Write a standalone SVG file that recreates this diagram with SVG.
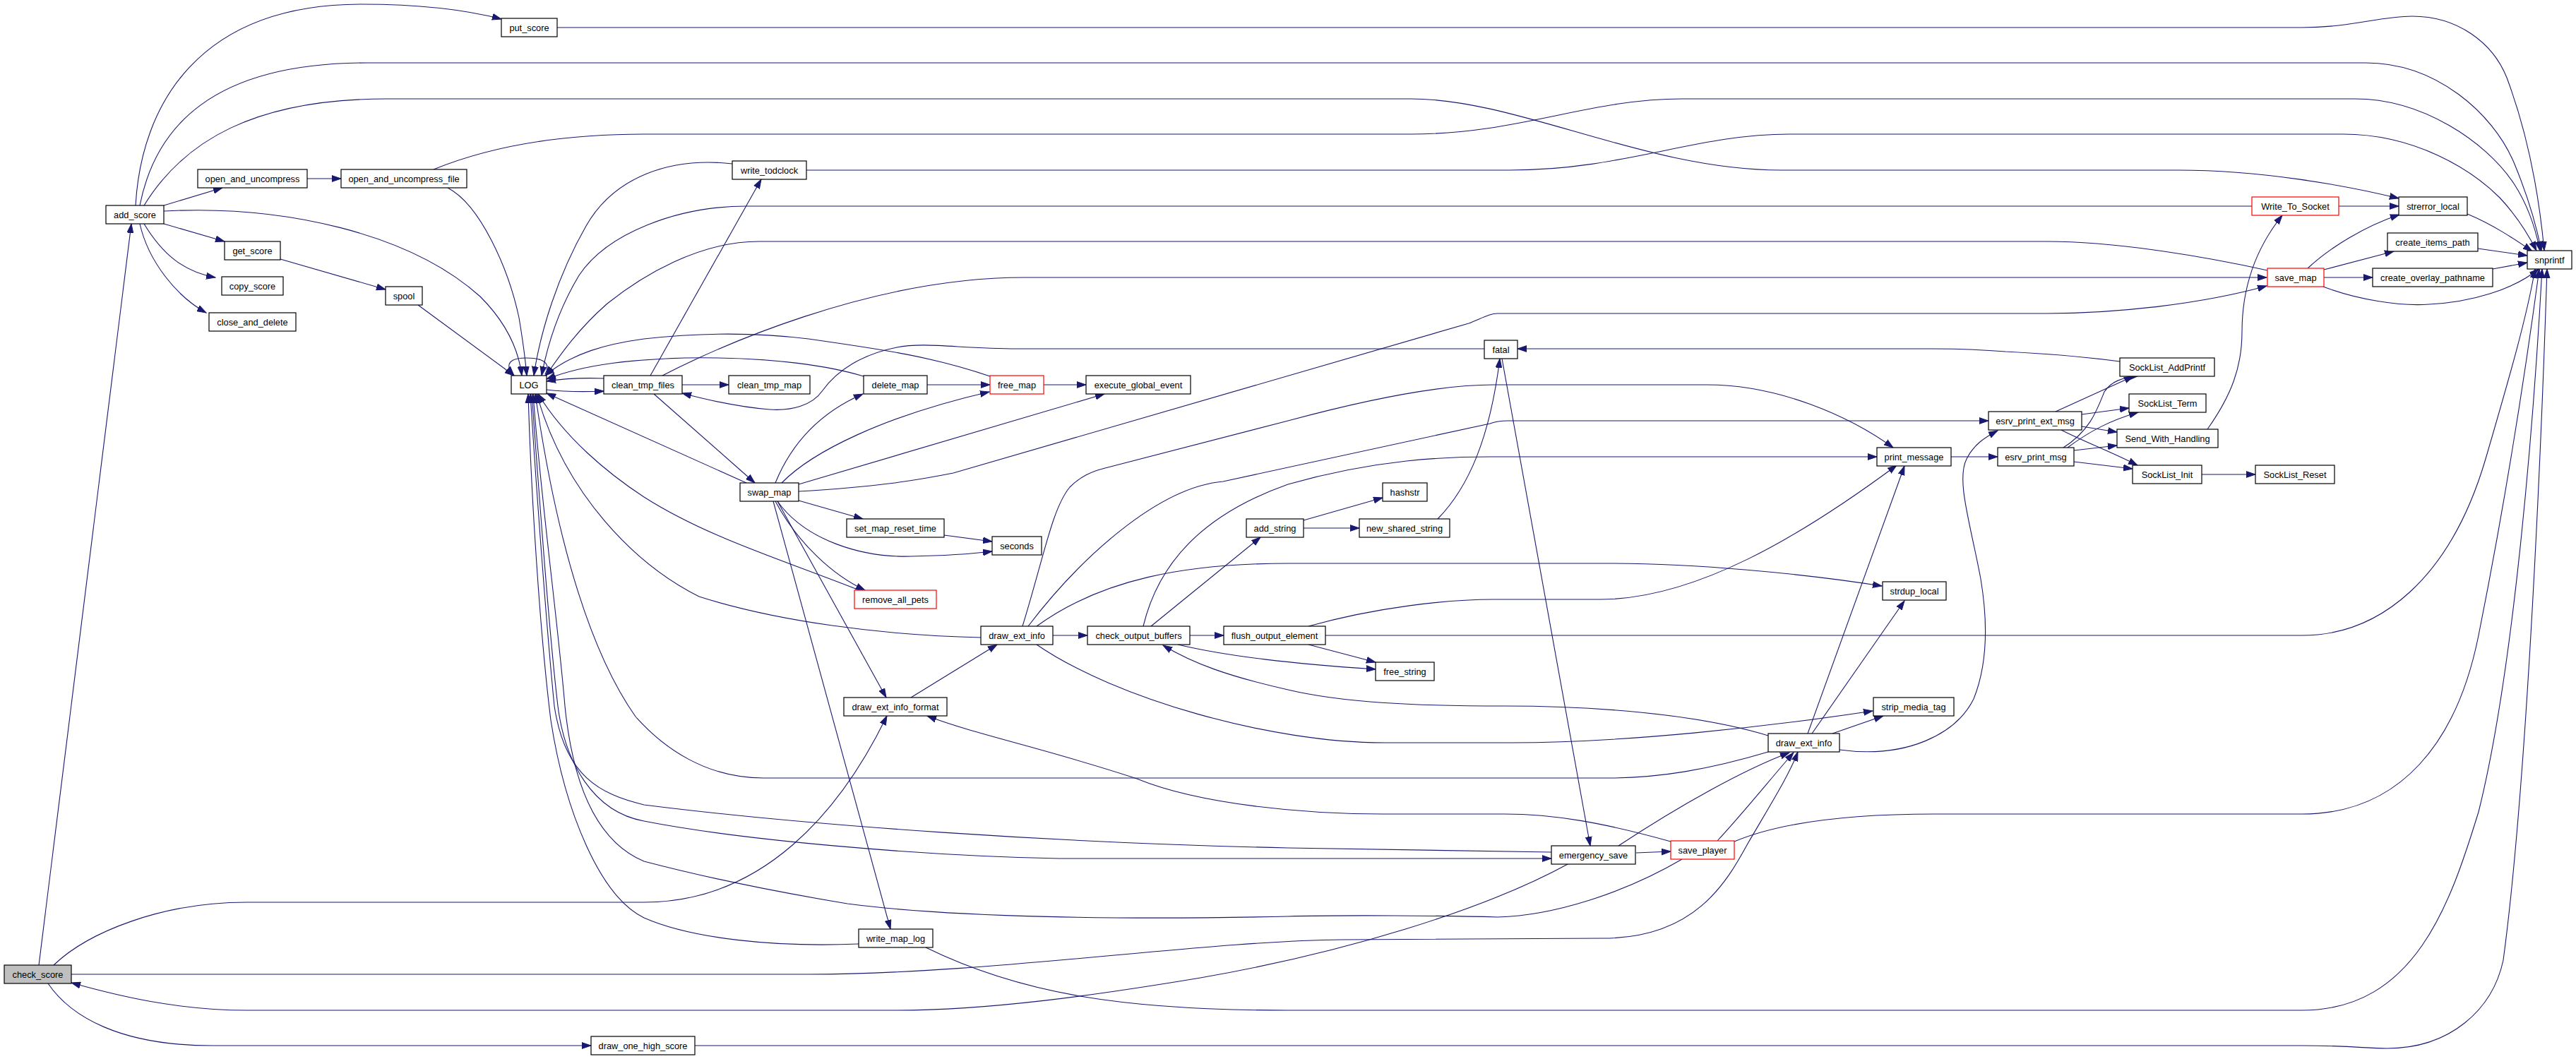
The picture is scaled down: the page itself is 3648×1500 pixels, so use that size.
<svg xmlns="http://www.w3.org/2000/svg" width="3648" height="1500" viewBox="0 0 3648 1500">
<defs>
<style>
.n rect{fill:#fff;stroke:#000;stroke-width:1.2}
.n.r rect{stroke:#ff0000}
.n.g rect{fill:#bfbfbf}
.n text{font-family:"Liberation Sans",Arial,Helvetica,sans-serif;font-size:12.8px;text-anchor:middle;fill:#000}
#edges path{fill:none;stroke:#191970;stroke-width:1.1;marker-end:url(#a)}
</style>
<marker id="a" markerWidth="14" markerHeight="10" refX="13" refY="5" orient="auto" markerUnits="userSpaceOnUse"><path d="M0,0.6 L13,5 L0,9.4 z" fill="#191970" stroke="#191970" stroke-width="1"/></marker>
</defs>
<rect width="3648" height="1500" fill="#fff"/>
<g id="edges">
<path d="M55,1367 L186,317"/>
<path d="M76,1367 C125,1320 230,1278 349,1278 L912,1278 C1080,1278 1190,1150 1256,1014"/>
<path d="M101,1380 L1145,1380 C1400,1380 1700,1333 1900,1331 L2270,1329 C2400,1329 2445,1250 2475,1195 C2510,1135 2535,1095 2546,1065"/>
<path d="M68,1393 C100,1440 170,1481 300,1481 L837,1481"/>
<path d="M984,1481 L3260,1481 C3330,1481 3350,1485 3380,1485 C3470,1485 3530,1430 3545,1360 C3580,1100 3600,600 3607,381"/>
<path d="M2222,1223 C2100,1290 1900,1350 1700,1385 C1550,1410 1400,1431 1270,1431 L350,1431 C250,1431 165,1410 101,1392"/>
<path d="M1311,1342 C1450,1410 1600,1431 1824,1431 L3260,1431 C3420,1431 3470,1280 3510,1150 C3560,950 3588,600 3600,381"/>
<path d="M2456,1192 C2520,1165 2620,1153 2740,1153 L3260,1153 C3400,1153 3480,1050 3510,900 C3550,700 3580,500 3596,381"/>
<path d="M1877,900 L3260,900 C3370,900 3470,820 3520,650 C3555,530 3578,450 3590,381"/>
<path d="M789,39 L3260,39 C3330,39 3370,23 3416,23 C3480,23 3530,60 3550,110 C3580,190 3596,280 3603,355"/>
<path d="M198,291 C220,180 300,89 520,89 L3350,89 C3450,89 3530,160 3560,230 C3585,290 3594,330 3599,355"/>
<path d="M204,291 C260,200 360,140 547,140 L1998,140 C2150,140 2330,241 2522,241 L3085,241 C3200,241 3320,262 3397,281"/>
<path d="M614,240 C700,205 800,190 912,190 L1998,190 C2150,190 2250,140 2382,140 L3335,140 C3430,140 3520,200 3560,260 C3583,295 3592,330 3597,355"/>
<path d="M1142,241 L2138,241 C2300,241 2400,190 2534,190 L3318,190 C3420,190 3500,240 3540,280 C3568,310 3582,335 3592,355"/>
<path d="M3494,303 C3530,318 3560,338 3586,356"/>
<path d="M3509,352 L3579,362"/>
<path d="M3530,381 L3579,372"/>
<path d="M3290,406 C3340,425 3400,434 3440,431 C3500,428 3560,410 3595,381"/>
<path d="M3268,380 C3300,350 3350,320 3398,304"/>
<path d="M3291,382 L3390,356"/>
<path d="M3291,393 L3360,393"/>
<path d="M3312,292 L3397,292"/>
<path d="M3126,608 C3160,560 3175,520 3175,470 C3175,400 3200,345 3232,305"/>
<path d="M3189,292 L1057,292 C960,292 860,330 820,390 C790,440 775,490 767,532"/>
<path d="M3211,383 C3130,365 3000,342 2900,342 L1075,342 C990,342 910,390 860,430 C820,465 795,500 773,532"/>
<path d="M938,532 C1010,495 1230,393 1450,393 L3210,393"/>
<path d="M1131,696 C1240,690 1300,680 1350,670 L2080,458 C2100,450 2110,444 2121,444 L2899,444 C3000,444 3120,430 3210,405"/>
<path d="M921,532 L1078,254"/>
<path d="M966,545 L1032,545"/>
<path d="M1313,545 L1402,545"/>
<path d="M1478,545 L1538,545"/>
<path d="M926,558 L1069,684"/>
<path d="M1057,684 L774,557"/>
<path d="M1098,684 C1120,630 1160,585 1222,558"/>
<path d="M1107,684 C1150,640 1250,590 1401,555"/>
<path d="M1131,686 L1564,558"/>
<path d="M1131,709 L1222,735"/>
<path d="M1337,758 L1405,767"/>
<path d="M1101,710 C1140,765 1220,790 1290,788 C1340,787 1380,784 1405,781"/>
<path d="M1098,710 C1130,770 1180,815 1225,836"/>
<path d="M1217,836 C1100,790 1000,760 912,704 C860,670 800,620 762,558"/>
<path d="M1101,710 L1255,988"/>
<path d="M1095,710 L1261,1316"/>
<path d="M1290,988 L1412,913"/>
<path d="M1491,900 L1540,900"/>
<path d="M1685,900 L1733,900"/>
<path d="M1389,903 C1250,900 1100,880 990,845 C900,800 800,700 760,558"/>
<path d="M1448,887 C1478,790 1490,720 1515,690 C1530,675 1545,668 1565,663 L1824,596 C1950,562 2050,545 2115,545 L2417,545 C2520,545 2620,590 2681,634"/>
<path d="M1456,887 C1530,790 1640,690 1732,682 L2110,600 C2118,597 2124,596 2135,596 L2816,596"/>
<path d="M1468,887 C1560,820 1680,798 1824,798 L2278,798 C2400,798 2550,812 2665,830"/>
<path d="M1468,913 C1580,990 1800,1052 1960,1052 L2140,1052 C2300,1052 2500,1030 2652,1007"/>
<path d="M1619,887 C1640,800 1700,730 1824,686 C1950,650 2050,647 2110,647 L2658,647"/>
<path d="M1630,887 L1785,761"/>
<path d="M1668,913 C1740,930 1830,940 1948,948"/>
<path d="M1853,913 L1948,938"/>
<path d="M1853,887 C1950,860 2050,849 2115,849 L2266,849 C2400,849 2550,760 2686,659"/>
<path d="M1846,737 L1958,705"/>
<path d="M1846,748 L1925,748"/>
<path d="M2036,735 C2080,690 2110,620 2124,508"/>
<path d="M2127,508 L2252,1198"/>
<path d="M3002,512 C2950,505 2880,500 2840,498 C2790,494 2760,494 2736,494 L2149,494"/>
<path d="M2102,494 L1440,494 C1360,494 1310,484 1270,492 C1220,502 1185,525 1165,553 C1150,575 1120,582 1090,580 C1050,577 1000,566 966,557"/>
<path d="M1402,533 C1320,505 1250,495 1145,480 C1080,472 1000,470 912,480 C860,487 810,500 772,532"/>
<path d="M1223,533 C1180,520 1100,505 970,507 C900,509 830,515 774,537"/>
<path d="M772,530 C782,512 765,507 745,507 C725,507 712,514 728,532"/>
<path d="M774,552 C800,555 830,555 855,554"/>
<path d="M855,536 C830,535 800,536 774,540"/>
<path d="M592,432 L728,532"/>
<path d="M232,299 C400,290 580,330 680,420 C720,460 735,500 739,532"/>
<path d="M634,266 C680,290 720,380 735,450 C740,480 744,510 746,532"/>
<path d="M1037,232 C950,222 870,250 830,320 C790,390 765,470 756,532"/>
<path d="M2197,1207 L1824,1201 C1500,1194 1150,1170 912,1140 C850,1125 800,1100 785,1000 C775,900 760,700 751,558"/>
<path d="M753,558 C765,720 778,900 790,1000 C800,1080 840,1150 912,1163 C1050,1190 1300,1212 1500,1216 L2197,1216"/>
<path d="M2382,1217 C2300,1265 2200,1297 2121,1299 C2050,1297 1900,1296 1824,1298 C1600,1303 1350,1300 1200,1280 C1050,1255 950,1230 912,1220 C840,1190 810,1100 800,1000 C790,880 765,700 755,558"/>
<path d="M1216,1337 C1100,1342 980,1330 912,1300 C850,1270 800,1150 780,1020 C765,900 752,700 748,558"/>
<path d="M2504,1065 C2420,1090 2350,1102 2278,1102 L1081,1102 C1000,1102 940,1060 900,1015 C840,930 790,780 758,558"/>
<path d="M2504,1042 C2400,1010 2250,1000 2130,1000 C2000,1000 1900,995 1824,977 C1740,958 1690,940 1647,914"/>
<path d="M2560,1039 L2697,660"/>
<path d="M2566,1039 L2697,851"/>
<path d="M2595,1039 L2667,1014"/>
<path d="M2605,1062 C2700,1075 2770,1040 2795,990 C2815,940 2815,880 2805,820 C2790,740 2770,680 2785,650 C2795,630 2810,620 2829,610"/>
<path d="M2317,1208 L2366,1206"/>
<path d="M2292,1198 C2380,1140 2470,1090 2534,1066"/>
<path d="M2432,1191 C2470,1150 2510,1100 2540,1066"/>
<path d="M2366,1192 C2270,1165 2200,1153 2130,1153 L1958,1153 C1850,1153 1700,1140 1610,1103 C1480,1060 1380,1040 1313,1014"/>
<path d="M2763,647 L2829,647"/>
<path d="M2911,583 L3021,533"/>
<path d="M2948,587 L3015,578"/>
<path d="M2948,604 L2998,612"/>
<path d="M2919,609 C2950,625 2990,640 3027,659"/>
<path d="M2922,634 C2960,610 2970,580 2980,555 C2990,540 3005,535 3027,533"/>
<path d="M2928,634 C2960,610 2990,595 3028,584"/>
<path d="M2937,638 L2998,631"/>
<path d="M2937,654 L3020,664"/>
<path d="M3118,672 L3194,672"/>
<path d="M232,291 L315,266"/>
<path d="M435,253 L483,253"/>
<path d="M232,317 L318,342"/>
<path d="M397,367 L546,410"/>
<path d="M204,317 C230,360 260,385 305,393"/>
<path d="M198,317 C210,370 250,420 292,443"/>
<path d="M192,291 C200,150 280,6 512,6 C600,6 660,14 710,27"/>
</g>
<g id="n-check_score" class="n g"><rect x="6" y="1367" width="95" height="26"/><text x="53.5" y="1384.5">check_score</text></g>
<g id="n-add_score" class="n"><rect x="150" y="291" width="82" height="26"/><text x="191" y="308.5">add_score</text></g>
<g id="n-put_score" class="n"><rect x="710" y="26" width="79" height="26"/><text x="749.5" y="43.5">put_score</text></g>
<g id="n-open_and_uncompress" class="n"><rect x="280" y="240" width="155" height="26"/><text x="357.5" y="257.5">open_and_uncompress</text></g>
<g id="n-open_and_uncompress_file" class="n"><rect x="483" y="240" width="178" height="26"/><text x="572" y="257.5">open_and_uncompress_file</text></g>
<g id="n-get_score" class="n"><rect x="318" y="342" width="79" height="26"/><text x="357.5" y="359.5">get_score</text></g>
<g id="n-copy_score" class="n"><rect x="314" y="392" width="87" height="26"/><text x="357.5" y="409.5">copy_score</text></g>
<g id="n-close_and_delete" class="n"><rect x="296" y="443" width="123" height="26"/><text x="357.5" y="460.5">close_and_delete</text></g>
<g id="n-spool" class="n"><rect x="546" y="406" width="52" height="26"/><text x="572" y="423.5">spool</text></g>
<g id="n-LOG" class="n"><rect x="724" y="532" width="50" height="26"/><text x="749" y="549.5">LOG</text></g>
<g id="n-clean_tmp_files" class="n"><rect x="855" y="532" width="111" height="26"/><text x="910.5" y="549.5">clean_tmp_files</text></g>
<g id="n-clean_tmp_map" class="n"><rect x="1032" y="532" width="115" height="26"/><text x="1089.5" y="549.5">clean_tmp_map</text></g>
<g id="n-delete_map" class="n"><rect x="1223" y="532" width="90" height="26"/><text x="1268" y="549.5">delete_map</text></g>
<g id="n-free_map" class="n r"><rect x="1402" y="532" width="76" height="26"/><text x="1440" y="549.5">free_map</text></g>
<g id="n-execute_global_event" class="n"><rect x="1538" y="532" width="148" height="26"/><text x="1612" y="549.5">execute_global_event</text></g>
<g id="n-write_todclock" class="n"><rect x="1037" y="228" width="105" height="26"/><text x="1089.5" y="245.5">write_todclock</text></g>
<g id="n-swap_map" class="n"><rect x="1048" y="684" width="83" height="26"/><text x="1089.5" y="701.5">swap_map</text></g>
<g id="n-set_map_reset_time" class="n"><rect x="1199" y="735" width="138" height="26"/><text x="1268" y="752.5">set_map_reset_time</text></g>
<g id="n-seconds" class="n"><rect x="1405" y="760" width="70" height="26"/><text x="1440" y="777.5">seconds</text></g>
<g id="n-remove_all_pets" class="n r"><rect x="1210" y="836" width="116" height="26"/><text x="1268" y="853.5">remove_all_pets</text></g>
<g id="n-draw_ext_info_a" class="n"><rect x="1389" y="887" width="102" height="26"/><text x="1440" y="904.5">draw_ext_info</text></g>
<g id="n-check_output_buffers" class="n"><rect x="1540" y="887" width="145" height="26"/><text x="1612.5" y="904.5">check_output_buffers</text></g>
<g id="n-flush_output_element" class="n"><rect x="1733" y="887" width="144" height="26"/><text x="1805" y="904.5">flush_output_element</text></g>
<g id="n-add_string" class="n"><rect x="1765" y="735" width="81" height="26"/><text x="1805.5" y="752.5">add_string</text></g>
<g id="n-hashstr" class="n"><rect x="1958" y="684" width="63" height="26"/><text x="1989.5" y="701.5">hashstr</text></g>
<g id="n-new_shared_string" class="n"><rect x="1925" y="735" width="128" height="26"/><text x="1989" y="752.5">new_shared_string</text></g>
<g id="n-free_string" class="n"><rect x="1948" y="938" width="83" height="26"/><text x="1989.5" y="955.5">free_string</text></g>
<g id="n-fatal" class="n"><rect x="2102" y="482" width="47" height="26"/><text x="2125.5" y="499.5">fatal</text></g>
<g id="n-draw_ext_info_format" class="n"><rect x="1195" y="988" width="146" height="26"/><text x="1268" y="1005.5">draw_ext_info_format</text></g>
<g id="n-write_map_log" class="n"><rect x="1216" y="1316" width="105" height="26"/><text x="1268.5" y="1333.5">write_map_log</text></g>
<g id="n-draw_one_high_score" class="n"><rect x="837" y="1468" width="147" height="26"/><text x="910.5" y="1485.5">draw_one_high_score</text></g>
<g id="n-emergency_save" class="n"><rect x="2197" y="1198" width="119" height="26"/><text x="2256.5" y="1215.5">emergency_save</text></g>
<g id="n-save_player" class="n r"><rect x="2366" y="1191" width="90" height="26"/><text x="2411" y="1208.5">save_player</text></g>
<g id="n-draw_ext_info_b" class="n"><rect x="2504" y="1039" width="101" height="26"/><text x="2554.5" y="1056.5">draw_ext_info</text></g>
<g id="n-strip_media_tag" class="n"><rect x="2653" y="988" width="114" height="26"/><text x="2710" y="1005.5">strip_media_tag</text></g>
<g id="n-strdup_local" class="n"><rect x="2666" y="824" width="90" height="26"/><text x="2711" y="841.5">strdup_local</text></g>
<g id="n-print_message" class="n"><rect x="2658" y="634" width="105" height="26"/><text x="2710.5" y="651.5">print_message</text></g>
<g id="n-esrv_print_ext_msg" class="n"><rect x="2816" y="583" width="132" height="26"/><text x="2882" y="600.5">esrv_print_ext_msg</text></g>
<g id="n-esrv_print_msg" class="n"><rect x="2829" y="634" width="108" height="26"/><text x="2883" y="651.5">esrv_print_msg</text></g>
<g id="n-SockList_AddPrintf" class="n"><rect x="3002" y="507" width="134" height="26"/><text x="3069" y="524.5">SockList_AddPrintf</text></g>
<g id="n-SockList_Term" class="n"><rect x="3015" y="558" width="109" height="26"/><text x="3069.5" y="575.5">SockList_Term</text></g>
<g id="n-Send_With_Handling" class="n"><rect x="2998" y="608" width="143" height="26"/><text x="3069.5" y="625.5">Send_With_Handling</text></g>
<g id="n-SockList_Init" class="n"><rect x="3020" y="659" width="98" height="26"/><text x="3069" y="676.5">SockList_Init</text></g>
<g id="n-SockList_Reset" class="n"><rect x="3194" y="659" width="112" height="26"/><text x="3250" y="676.5">SockList_Reset</text></g>
<g id="n-Write_To_Socket" class="n r"><rect x="3189" y="279" width="123" height="26"/><text x="3250.5" y="296.5">Write_To_Socket</text></g>
<g id="n-strerror_local" class="n"><rect x="3397" y="279" width="97" height="26"/><text x="3445.5" y="296.5">strerror_local</text></g>
<g id="n-create_items_path" class="n"><rect x="3381" y="330" width="128" height="26"/><text x="3445" y="347.5">create_items_path</text></g>
<g id="n-create_overlay_pathname" class="n"><rect x="3360" y="380" width="170" height="26"/><text x="3445" y="397.5">create_overlay_pathname</text></g>
<g id="n-save_map" class="n r"><rect x="3211" y="380" width="80" height="26"/><text x="3251" y="397.5">save_map</text></g>
<g id="n-snprintf" class="n"><rect x="3579" y="355" width="63" height="26"/><text x="3610.5" y="372.5">snprintf</text></g>
</svg>
